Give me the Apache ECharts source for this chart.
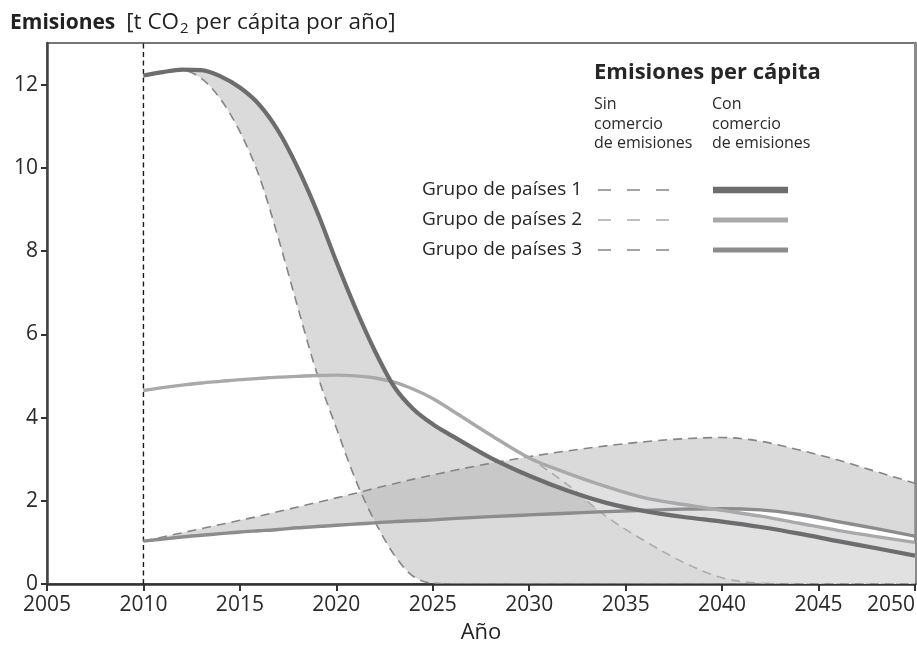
<!DOCTYPE html>
<html>
<head>
<meta charset="utf-8">
<title>Emisiones per cápita</title>
<script src="https://cdn.jsdelivr.net/npm/echarts@6/dist/echarts.min.js"></script>
<style>
  html, body { margin: 0; padding: 0; background: #ffffff; }
  #chart { width: 917px; height: 647px; }
</style>
</head>
<body>
<div id="chart"></div>
<script>
// Years sampled for every curve (t CO2 per capita per year)
const years = [2010, 2011, 2012, 2013, 2014, 2015, 2016, 2017, 2018, 2019, 2020,
  2021, 2022, 2023, 2024, 2025, 2026, 2028, 2030, 2032, 2034, 2036, 2038, 2040,
  2042, 2044, 2046, 2048, 2050];

// Group 1: with and without emissions trading
const conComercio1 = [12.22, 12.30, 12.36, 12.35, 12.20, 11.93, 11.52, 10.88, 10.00, 8.95, 7.75,
  6.62, 5.60, 4.74, 4.20, 3.84, 3.56, 3.03, 2.60, 2.24, 1.95, 1.75, 1.61, 1.50,
  1.37, 1.21, 1.03, 0.86, 0.68];
const sinComercio1 = [12.22, 12.30, 12.34, 12.15, 11.65, 10.87, 9.80, 8.30, 6.65, 5.05, 3.75,
  2.50, 1.50, 0.70, 0.18, 0.02, 0, 0, 0, 0, 0, 0, 0, 0,
  0, 0, 0, 0, 0];

// Group 2
const conComercio2 = [4.65, 4.72, 4.78, 4.83, 4.87, 4.91, 4.94, 4.97, 4.99, 5.01, 5.02,
  5.00, 4.95, 4.85, 4.68, 4.46, 4.17, 3.58, 3.03, 2.66, 2.34, 2.07, 1.91, 1.77,
  1.63, 1.46, 1.29, 1.14, 1.00];
const sinComercio2 = [4.65, 4.72, 4.78, 4.83, 4.87, 4.91, 4.94, 4.97, 4.99, 5.01, 5.02,
  5.00, 4.95, 4.85, 4.68, 4.46, 4.17, 3.58, 3.03, 2.38, 1.62, 1.03, 0.52, 0.15,
  0.02, 0, 0, 0, 0];

// Group 3
const conComercio3 = [1.03, 1.08, 1.13, 1.17, 1.21, 1.25, 1.28, 1.31, 1.35, 1.38, 1.41,
  1.44, 1.47, 1.50, 1.52, 1.54, 1.57, 1.62, 1.66, 1.70, 1.74, 1.77, 1.80, 1.81,
  1.78, 1.67, 1.50, 1.33, 1.15];
const sinComercio3 = [1.03, 1.13, 1.23, 1.33, 1.43, 1.53, 1.63, 1.74, 1.85, 1.96, 2.07,
  2.18, 2.30, 2.41, 2.52, 2.62, 2.72, 2.90, 3.06, 3.20, 3.32, 3.42, 3.49, 3.52,
  3.43, 3.22, 2.98, 2.70, 2.42];

// Axis ticks and reference year
const xTicks = [2005, 2010, 2015, 2020, 2025, 2030, 2035, 2040, 2045, 2050];
const yTicks = [0, 2, 4, 6, 8, 10, 12];
const yMax = 13;
const baseYear = [2010];

// Legend rows
const groupNames = ['Grupo de países 1', 'Grupo de países 2', 'Grupo de países 3'];

const FONT = '"Open Sans", "Noto Sans", "DejaVu Sans", sans-serif';

// Monotone cubic (x-parameterised) Bezier segments through the projected points
function sign(v) { return v < 0 ? -1 : 1; }
function tangents(pts) {
  const n = pts.length;
  const t = new Array(n).fill(0);
  for (let i = 1; i < n - 1; i++) {
    const h0 = pts[i][0] - pts[i - 1][0], h1 = pts[i + 1][0] - pts[i][0];
    const s0 = (pts[i][1] - pts[i - 1][1]) / h0;
    const s1 = (pts[i + 1][1] - pts[i][1]) / h1;
    const p = (s0 * h1 + s1 * h0) / (h0 + h1);
    t[i] = (sign(s0) + sign(s1)) * Math.min(Math.abs(s0), Math.abs(s1), 0.5 * Math.abs(p)) || 0;
  }
  const hA = pts[1][0] - pts[0][0];
  t[0] = (3 * (pts[1][1] - pts[0][1]) / hA - t[1]) / 2;
  const hB = pts[n - 1][0] - pts[n - 2][0];
  t[n - 1] = (3 * (pts[n - 1][1] - pts[n - 2][1]) / hB - t[n - 2]) / 2;
  return t;
}
function bezierSegments(pts) {
  const t = tangents(pts);
  const segs = [];
  for (let i = 1; i < pts.length; i++) {
    const a = pts[i - 1], b = pts[i];
    const dx = (b[0] - a[0]) / 3;
    segs.push({ from: a, c0: [a[0] + dx, a[1] + dx * t[i - 1]], c1: [b[0] - dx, b[1] - dx * t[i]], to: b });
  }
  return segs;
}

const f = v => v.toFixed(2);
const pt = p => f(p[0]) + ' ' + f(p[1]);

function linePath(pts) {
  const segs = bezierSegments(pts);
  return 'M' + pt(pts[0]) + segs.map(s => ' C' + pt(s.c0) + ' ' + pt(s.c1) + ' ' + pt(s.to)).join('');
}

function bandPath(upper, lower) {
  const su = bezierSegments(upper);
  const sl = bezierSegments(lower);
  let d = 'M' + pt(upper[0]);
  su.forEach(s => { d += ' C' + pt(s.c0) + ' ' + pt(s.c1) + ' ' + pt(s.to); });
  d += ' L' + pt(lower[lower.length - 1]);
  for (let i = sl.length - 1; i >= 0; i--) {
    const s = sl[i];
    d += ' C' + pt(s.c1) + ' ' + pt(s.c0) + ' ' + pt(s.from);
  }
  return d + ' Z';
}

function toPixels(api, vals) {
  return years.map((x, i) => api.coord([x, vals[i]]));
}

function bandSeries(name, upper, lower, fill) {
  return {
    name, type: 'custom', coordinateSystem: 'cartesian2d', silent: true, clip: true,
    data: [[years[0], lower[0]]],
    renderItem: (params, api) => ({
      type: 'path',
      shape: { pathData: bandPath(toPixels(api, upper), toPixels(api, lower)) },
      style: { fill: fill, stroke: 'none' }
    })
  };
}

function curveSeries(name, vals, stroke, width, dash) {
  return {
    name, type: 'custom', coordinateSystem: 'cartesian2d', silent: true, clip: true,
    data: [[years[0], vals[0]]],
    renderItem: (params, api) => ({
      type: 'path',
      shape: { pathData: linePath(toPixels(api, vals)) },
      style: { fill: 'none', stroke: stroke, lineWidth: width, lineDash: dash || null, lineCap: 'butt', lineJoin: 'round' }
    })
  };
}

const baseYearSeries = {
  name: 'base', type: 'custom', coordinateSystem: 'cartesian2d', silent: true, clip: false,
  data: baseYear.map(y => [y, 0]),
  renderItem: (params, api) => {
    const p0 = api.coord([api.value(0), 0]);
    const p1 = api.coord([api.value(0), yMax]);
    return {
      type: 'line',
      shape: { x1: p0[0], y1: p0[1], x2: p1[0], y2: p1[1] },
      style: { stroke: '#1a1a1a', lineWidth: 1.4, lineDash: [5, 3.5] }
    };
  }
};

const colors = {
  con: ['#6d6d70', '#a9a9ab', '#8c8c8f'],
  sin: ['#858587', '#ababad', '#858587'],
  conWidth: [4.2, 3.4, 3.4]
};

// Legend drawn at the upper right of the plot
const legendTop = [190, 220, 250];
const legendGraphics = [
  { type: 'text', x: 594, y: 73, style: { text: 'Emisiones per cápita', font: 'bold 22px ' + FONT, fill: '#262626', verticalAlign: 'middle', textVerticalAlign: 'middle' } },
  { type: 'text', x: 594, y: 95, style: { text: 'Sin\ncomercio\nde emisiones', font: '16px ' + FONT, lineHeight: 19.5, fill: '#2a2a2a' } },
  { type: 'text', x: 712, y: 95, style: { text: 'Con\ncomercio\nde emisiones', font: '16px ' + FONT, lineHeight: 19.5, fill: '#2a2a2a' } }
];
groupNames.forEach((g, i) => {
  const y = legendTop[i];
  legendGraphics.push(
    { type: 'text', x: 582, y: y, style: { text: g, font: '19px ' + FONT, fill: '#262626', align: 'right', textAlign: 'right', verticalAlign: 'middle', textVerticalAlign: 'middle' } },
    { type: 'line', shape: { x1: 598, y1: y, x2: 671, y2: y }, style: { stroke: colors.sin[i], lineWidth: 1.6, lineDash: [13, 16] } },
    { type: 'line', shape: { x1: 713, y1: y, x2: 788, y2: y }, style: { stroke: colors.con[i], lineWidth: i === 0 ? 6.5 : 5 } }
  );
});

const chart = echarts.init(document.getElementById('chart'), null, { renderer: 'canvas' });

chart.setOption({
  animation: false,
  backgroundColor: '#ffffff',
  textStyle: { fontFamily: FONT },
  title: {
    text: '{b|Emisiones}  {n|[t CO}{s|2}{n| per cápita por año]}',
    left: 5, top: 5,
    textStyle: {
      fontFamily: FONT, fontSize: 21, fontWeight: 'normal', color: '#222',
      rich: {
        b: { fontFamily: FONT, fontSize: 21, fontWeight: 'bold', color: '#222' },
        n: { fontFamily: FONT, fontSize: 22.5, fontWeight: 'normal', color: '#222' },
        s: { fontFamily: FONT, fontSize: 15, fontWeight: 'normal', color: '#222', padding: [11, 1, 0, 1] }
      }
    }
  },
  grid: {
    left: 47, right: 2, top: 43, bottom: 63,
    containLabel: false, outerBoundsMode: 'none',
    show: true, borderColor: '#4a4a4a', borderWidth: 1.5, backgroundColor: 'transparent'
  },
  xAxis: {
    type: 'value', min: 2005, max: 2050, interval: 5,
    name: 'Año', nameLocation: 'middle', nameGap: 38,
    nameTextStyle: { fontFamily: FONT, fontSize: 22, color: '#222' },
    axisLine: { show: true, onZero: false, lineStyle: { color: '#333', width: 2.5 } },
    axisTick: { show: true, length: 7, lineStyle: { color: '#333', width: 2 }, customValues: xTicks },
    axisLabel: {
      fontFamily: FONT, fontSize: 21, color: '#2a2a2a', margin: 11,
      customValues: xTicks, alignMaxLabel: 'right', formatter: v => String(v)
    },
    splitLine: { show: false }
  },
  yAxis: [{
    type: 'value', min: 0, max: yMax, interval: 2,
    axisLine: { show: true, onZero: false, lineStyle: { color: '#444', width: 2.5 } },
    axisTick: { show: true, length: 6, lineStyle: { color: '#333', width: 2 }, customValues: yTicks },
    axisLabel: { fontFamily: FONT, fontSize: 21, color: '#2a2a2a', margin: 9, customValues: yTicks },
    splitLine: { show: false }
  }, {
    type: 'value', position: 'right', min: 0, max: yMax, interval: 2,
    axisLine: { show: true, onZero: false, lineStyle: { color: '#8a8a8a', width: 3 } },
    axisTick: { show: false }, axisLabel: { show: false }, splitLine: { show: false }
  }],
  graphic: { elements: legendGraphics },
  series: [
    baseYearSeries,
    bandSeries('banda1', conComercio1, sinComercio1, 'rgba(181,181,183,0.5)'),
    bandSeries('banda3', sinComercio3, conComercio3, 'rgba(181,181,183,0.5)'),
    bandSeries('banda2', conComercio2, sinComercio2, '#e1e1e2'),
    curveSeries('sin3', sinComercio3, colors.sin[2], 1.6, [9, 6]),
    curveSeries('sin2', sinComercio2, colors.sin[1], 1.6, [9, 6]),
    curveSeries('sin1', sinComercio1, colors.sin[0], 1.6, [9, 6]),
    curveSeries('con3', conComercio3, colors.con[2], colors.conWidth[2]),
    curveSeries('con2', conComercio2, colors.con[1], colors.conWidth[1]),
    curveSeries('con1', conComercio1, colors.con[0], colors.conWidth[0])
  ]
});
</script>
</body>
</html>
